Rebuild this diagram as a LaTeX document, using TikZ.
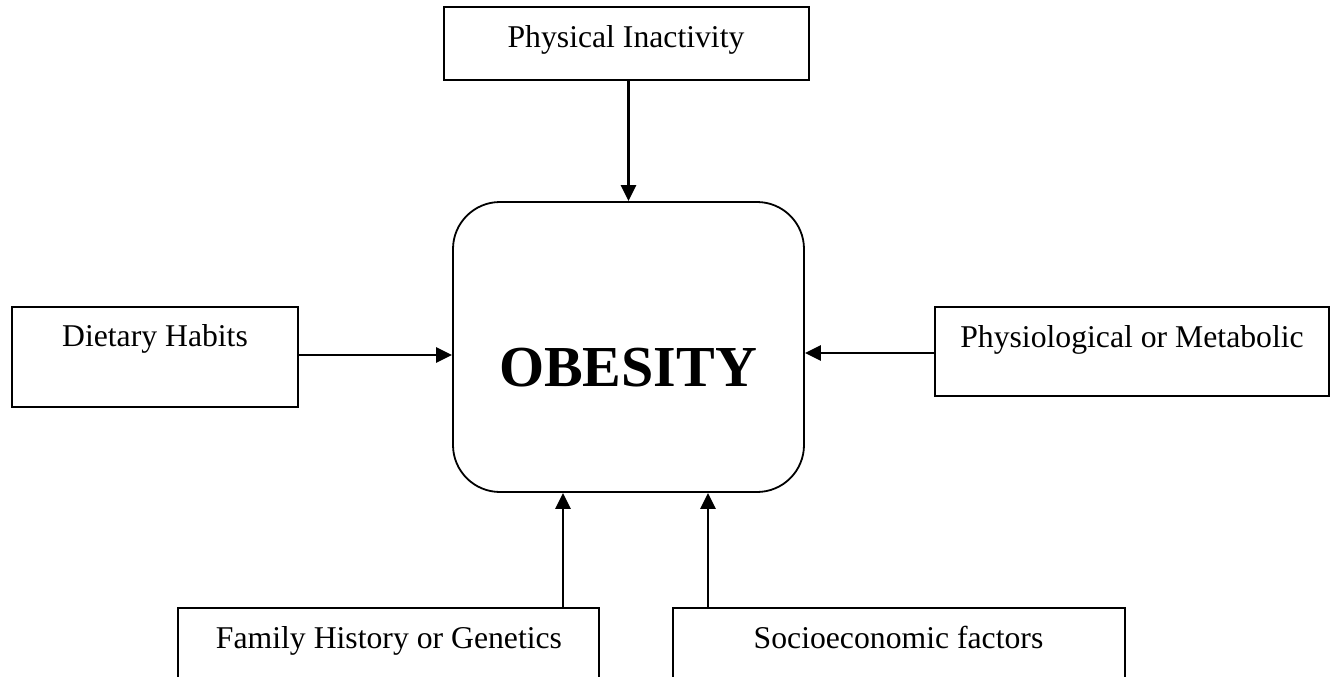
\documentclass[tikz,border=0pt]{standalone}
\usepackage{fontspec}
\setmainfont{Liberation Serif}
\usetikzlibrary{arrows.meta,calc}
\begin{document}
\begin{tikzpicture}[x=1pt,y=-1pt,
  factor/.style={draw=black,line width=2pt,rectangle,inner sep=0pt,fill=white},
  mainbox/.style={draw=black,line width=1.8pt,rectangle,rounded corners=47pt,inner sep=0pt,minimum width=351pt,minimum height=290pt},
  lbl/.style={anchor=base,inner sep=0pt,font=\fontsize{31.7pt}{36pt}\selectfont},
  arr/.style={line width=2.5pt,-{Triangle[length=16pt,width=15pt]}}]
\useasboundingbox (0,0) rectangle (1336,677);
\clip (0,0) rectangle (1336,677);
\node[factor,minimum width=365pt,minimum height=73pt] (phys) at (626.5,43.5) {};
\node[factor,minimum width=286pt,minimum height=100pt] (diet) at (155,357) {};
\node[factor,minimum width=394pt,minimum height=89pt] (physio) at (1132,351.5) {};
\node[factor,minimum width=421pt,minimum height=100pt] (fam) at (388.5,658) {};
\node[factor,minimum width=452pt,minimum height=100pt] (socio) at (899,658) {};
\node[mainbox] (ob) at (628.5,347) {};
\node[lbl] (tphys) at (626,48) {Physical Inactivity};
\node[lbl] (tdiet) at (155,346) {Dietary Habits};
\node[lbl] (tphysio) at (1132,347) {Physiological or Metabolic};
\node[lbl] (tfam) at (389,648) {Family History or Genetics};
\node[lbl] (tsocio) at (898.5,648) {Socioeconomic factors};
\node[anchor=base,inner sep=0pt,font=\fontsize{58pt}{64pt}\selectfont\bfseries] (tob) at (628,386) {OBESITY};
\coordinate (f1) at ($(ob.south)+(-65.5,0)$);
\coordinate (s1) at ($(ob.south)+(79.5,0)$);
\draw[arr] (phys.south -| ob.north) -- (ob.north);
\draw[arr] ($(diet.east)+(0,-2)$) -- ($(diet.east -| ob.west)+(0,-2)$);
\draw[arr] ($(physio.west)+(0,1.5)$) -- ($(physio.west -| ob.east)+(0,1.5)$);
\draw[arr] (fam.north -| f1) -- (f1);
\draw[arr] (socio.north -| s1) -- (s1);
\end{tikzpicture}
\end{document}
